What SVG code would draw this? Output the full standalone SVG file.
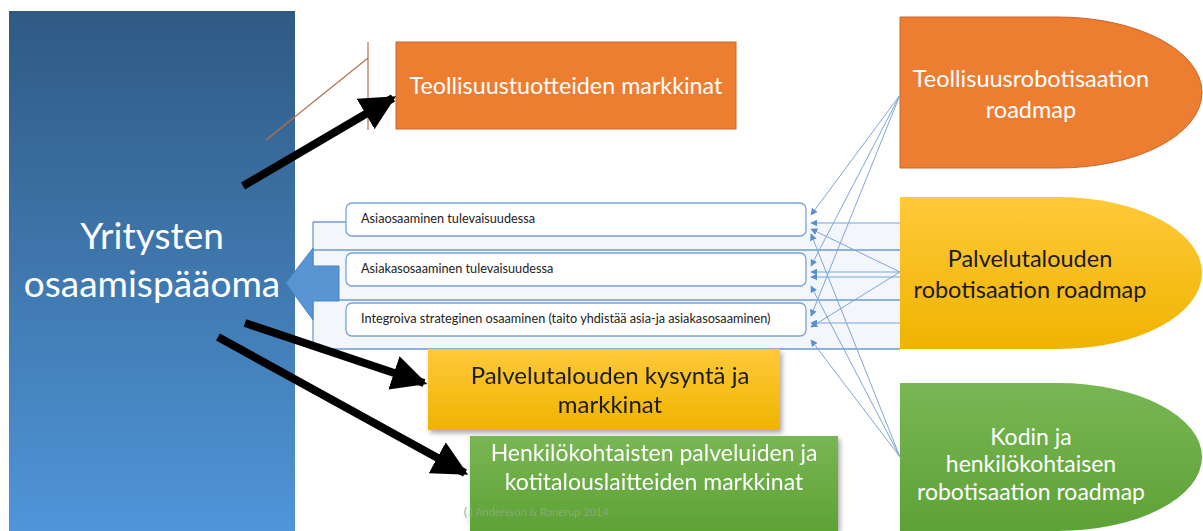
<svg xmlns="http://www.w3.org/2000/svg" width="1203" height="531" viewBox="0 0 1203 531">
  <defs>
    <linearGradient id="gBlue" x1="0" y1="0" x2="0" y2="1">
      <stop offset="0" stop-color="#2f5a84"/>
      <stop offset="1" stop-color="#4f95d8"/>
    </linearGradient>
    <linearGradient id="gYellow" x1="0" y1="0" x2="0" y2="1">
      <stop offset="0" stop-color="#ffc93a"/>
      <stop offset="1" stop-color="#efb400"/>
    </linearGradient>
    <linearGradient id="gGreen" x1="0" y1="0" x2="0" y2="1">
      <stop offset="0" stop-color="#79b654"/>
      <stop offset="1" stop-color="#5da236"/>
    </linearGradient>
    <filter id="shadow" x="-10%" y="-10%" width="125%" height="130%">
      <feDropShadow dx="2" dy="3" stdDeviation="2.5" flood-color="#000" flood-opacity="0.35"/>
    </filter>
    <marker id="bigHead" viewBox="0 0 10 10" refX="9" refY="5" markerWidth="4.4" markerHeight="4.4" markerUnits="strokeWidth" orient="auto">
      <path d="M0,0 L10,5 L0,10 Z" fill="#000"/>
    </marker>
    <marker id="thinHead" viewBox="0 0 10 10" refX="9" refY="5" markerWidth="7" markerHeight="7" markerUnits="userSpaceOnUse" orient="auto">
      <path d="M0,0 L10,5 L0,10 Z" fill="#5b8fcf"/>
    </marker>
  </defs>
  <style>
    text { font-family: Lato, "Open Sans", "Liberation Sans", sans-serif; }
    .big { stroke: #000; stroke-width: 8; fill: none; marker-end: url(#bigHead); }
    .fan { stroke: #7fa6d6; stroke-width: 1; fill: none; marker-end: url(#thinHead); }
    .rule { stroke: #6d9ad3; stroke-width: 1.3; fill: none; }
    .item { fill: #fff; stroke: #7aa3d4; stroke-width: 1.3; }
    .itemText { font-size: 12.7px; fill: #222; }
    .white { fill: #fff; }
    .dark { fill: #1a1a1a; }
  </style>

  <rect width="1203" height="531" fill="#fff"/>

  <!-- company knowledge capital column -->
  <g id="capital">
    <rect x="9" y="11" width="286" height="520" fill="url(#gBlue)"/>
    <text x="152" y="249" font-size="37" text-anchor="middle" class="white">Yritysten</text>
    <text x="152" y="297" font-size="37" text-anchor="middle" class="white">osaamispääoma</text>
  </g>

  <!-- competence band behind the three items -->
  <g id="competences">
    <rect x="313" y="222" width="587" height="127" fill="#f3f6fb"/>
    <path class="rule" d="M313,222 V349 M313,222 H346 M313,250 H900 M313,300 H900 M313,349 H900"/>
    <path d="M286,283 L313,248 V266 H339 V301 H313 V320 Z" fill="#5a95d3" stroke="#4a84c2" stroke-width="1"/>
  </g>

  <g id="item1">
    <rect class="item" x="346" y="203" width="460" height="33" rx="6"/>
    <text class="itemText" x="361" y="223">Asiaosaaminen tulevaisuudessa</text>
  </g>
  <g id="item2">
    <rect class="item" x="346" y="253" width="460" height="33" rx="6"/>
    <text class="itemText" x="361" y="273">Asiakasosaaminen tulevaisuudessa</text>
  </g>
  <g id="item3">
    <rect class="item" x="346" y="303" width="460" height="33" rx="6"/>
    <text class="itemText" x="361" y="323">Integroiva strateginen osaaminen (taito yhdistää asia-ja asiakasosaaminen)</text>
  </g>

  <!-- markets -->
  <g id="industryMarket">
    <rect x="396" y="42" width="340" height="87" fill="#ed7d31" stroke="#c9672a" stroke-width="1"/>
    <text x="566" y="94" font-size="23.3" text-anchor="middle" class="white">Teollisuustuotteiden markkinat</text>
  </g>
  <g id="serviceMarket" filter="url(#shadow)">
    <rect x="428" y="349" width="352" height="81" fill="url(#gYellow)"/>
    <text x="610" y="384" font-size="24" text-anchor="middle" class="dark">Palvelutalouden kysyntä ja</text>
    <text x="610" y="413" font-size="24" text-anchor="middle" class="dark">markkinat</text>
  </g>
  <g id="homeMarket" filter="url(#shadow)">
    <rect x="470" y="436" width="368" height="95" fill="url(#gGreen)"/>
    <text x="654" y="461" font-size="23" text-anchor="middle" class="white">Henkilökohtaisten palveluiden ja</text>
    <text x="654" y="490" font-size="23" text-anchor="middle" class="white">kotitalouslaitteiden markkinat</text>
    <text x="464" y="516" font-size="11" fill="#8aa87c">( ) Andersson &amp; Ranerup 2014</text>
  </g>

  <!-- roadmaps -->
  <g id="industryRoadmap">
    <path d="M900,17 H1058 A144,75.5 0 0 1 1058,168 H900 Z" fill="#ed7d31" stroke="#c9672a" stroke-width="1"/>
    <text x="1031" y="87" font-size="23.5" text-anchor="middle" class="white">Teollisuusrobotisaation</text>
    <text x="1031" y="118" font-size="23.5" text-anchor="middle" class="white">roadmap</text>
  </g>
  <g id="serviceRoadmap">
    <path d="M900,197 H1058 A144,76 0 0 1 1058,349 H900 Z" fill="url(#gYellow)"/>
    <text x="1030" y="267" font-size="23.5" text-anchor="middle" class="dark">Palvelutalouden</text>
    <text x="1030" y="298" font-size="23.5" text-anchor="middle" class="dark">robotisaation roadmap</text>
  </g>
  <g id="homeRoadmap">
    <path d="M900,383 H1058 A144,74 0 0 1 1058,531 H900 Z" fill="url(#gGreen)"/>
    <text x="1031" y="445" font-size="23" text-anchor="middle" class="white">Kodin ja</text>
    <text x="1031" y="472" font-size="23" text-anchor="middle" class="white">henkilökohtaisen</text>
    <text x="1031" y="500" font-size="23" text-anchor="middle" class="white">robotisaation roadmap</text>
  </g>

  <!-- connectors -->
  <g id="connectors">
    <path d="M266,140 L368,58 M368,42 V130" stroke="#b5714a" stroke-width="1.2" fill="none"/>
    <path class="big" d="M243,186 L393,98"/>
    <path class="big" d="M245,323 L424,383"/>
    <path class="big" d="M218,337 L465,473"/>

    <path class="fan" d="M900,95 L811,215"/>
    <path class="fan" d="M900,95 L811,266"/>
    <path class="fan" d="M900,95 L811,316"/>
    <path class="fan" d="M900,223 L811,223"/>
    <path class="fan" d="M900,272 L811,229"/>
    <path class="fan" d="M900,272 L811,272"/>
    <path class="fan" d="M900,277 L811,277"/>
    <path class="fan" d="M900,272 L811,327"/>
    <path class="fan" d="M900,323 L811,323"/>
    <path class="fan" d="M900,457 L811,234"/>
    <path class="fan" d="M900,457 L811,286"/>
    <path class="fan" d="M900,457 L811,340"/>
  </g>
</svg>
